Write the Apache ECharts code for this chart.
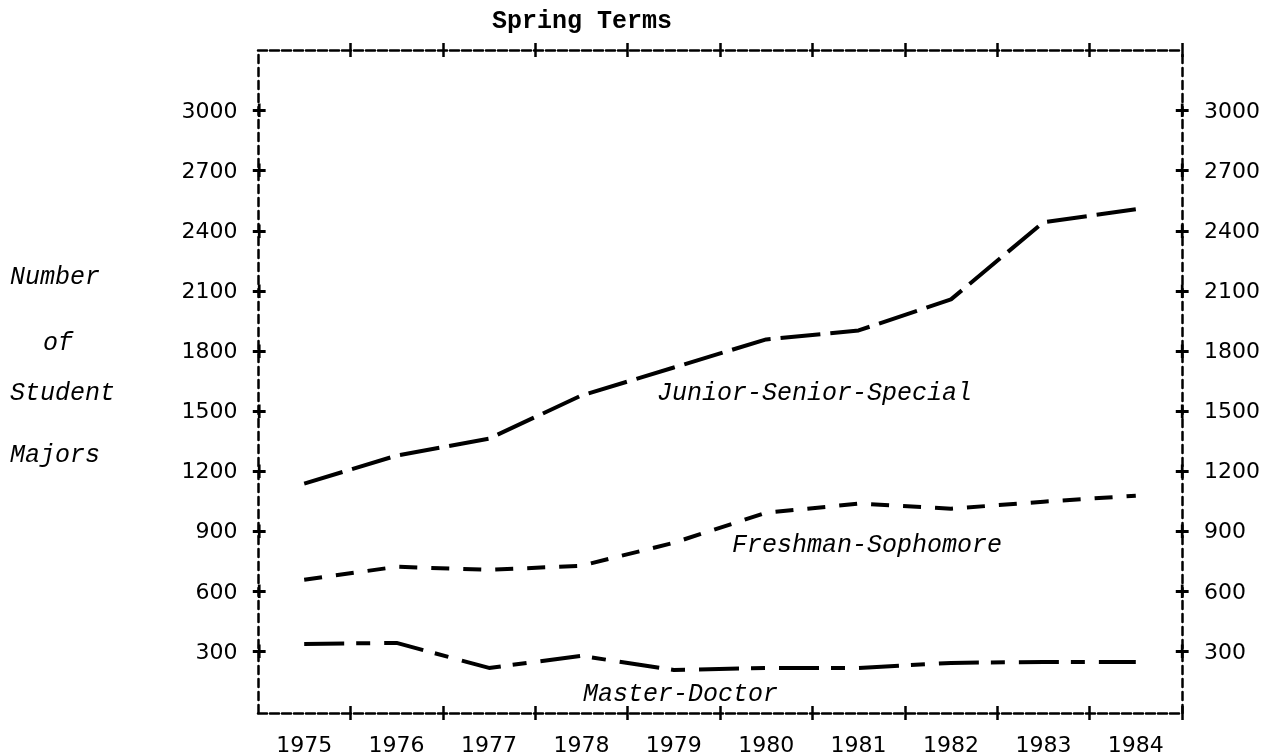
<!DOCTYPE html>
<html>
<head>
<meta charset="utf-8">
<title>Student Majors - Spring Terms</title>
<script src="https://cdn.jsdelivr.net/npm/echarts/dist/echarts.min.js"></script>
<style>
  html, body { margin: 0; padding: 0; background: #fff; }
  #majors { width: 1279px; height: 756px; }
</style>
</head>
<body>
<div id="majors"></div>
<script>
// spring terms
var years = ['1975', '1976', '1977', '1978', '1979', '1980', '1981', '1982', '1983', '1984'];
// number of student majors per level
var juniorSeniorSpecial = [1145, 1285, 1370, 1585, 1725, 1865, 1910, 2065, 2450, 2515];
var freshmanSophomore = [665, 730, 715, 735, 850, 1000, 1045, 1020, 1055, 1085];
var masterDoctor = [345, 350, 225, 285, 215, 225, 225, 250, 255, 255];
// labelled ticks on both y axes
var yTicks = [300, 600, 900, 1200, 1500, 1800, 2100, 2400, 2700, 3000];

var numFont = "'DejaVu Sans', sans-serif";
var monoFont = "'DejaVu Sans Mono', monospace";
var scriptFont = "'Liberation Mono', monospace";

var chart = echarts.init(document.getElementById('majors'));

// dashed border line, typewriter style
var borderH = {show: true, lineStyle: {color: '#000', width: 2.5, type: [9, 3]}};
var borderV = {show: true, lineStyle: {color: '#000', width: 2.5, type: [8, 5]}};
var tickStyle = {color: '#000', width: 2.5};

function xAx(pos, line, inside, labels) {
  return {
    type: 'category',
    position: pos,
    data: years,
    boundaryGap: true,
    axisLine: line ? borderH : {show: false},
    axisTick: {
      show: true, inside: inside, length: 7, lineStyle: tickStyle,
      interval: function (i) { return i > 0; }
    },
    axisLabel: labels ? {
      show: true, margin: 22, color: '#000',
      fontFamily: numFont, fontSize: 22
    } : {show: false},
    splitLine: {show: false}
  };
}

function yLabel(v, right) {
  if (yTicks.indexOf(v) < 0) return '';
  return right ? '{p|+}{s| }' + v : v + '{s| }{p|+}';
}

function yAx(pos) {
  var right = pos === 'right';
  return {
    type: 'value',
    position: pos,
    min: 0,
    max: 3310,
    interval: 300,
    axisLine: borderV,
    axisTick: {show: false},
    splitLine: {show: false},
    axisLabel: {
      show: true,
      margin: right ? -7 : -8.5,
      color: '#000',
      fontFamily: numFont,
      fontSize: 22,
      formatter: function (v) { return yLabel(v, right); },
      rich: {
        s: {fontFamily: monoFont, fontSize: 24, color: '#000'},
        p: {fontFamily: monoFont, fontSize: 24, fontWeight: 'bold', color: '#000'}
      }
    }
  };
}

function line(name, data, dash) {
  return {
    name: name,
    type: 'line',
    data: data,
    symbol: 'none',
    smooth: false,
    lineStyle: {color: '#000', width: 4, type: dash}
  };
}

function note(text, x, y, opts) {
  opts = opts || {};
  return {
    type: 'text',
    x: x,
    y: y,
    style: {
      text: text,
      fill: '#000',
      font: (opts.font || ('italic 25px ' + scriptFont)),
      align: opts.align || 'left',
      verticalAlign: 'middle'
    }
  };
}

var option = {
  animation: false,
  backgroundColor: '#fff',
  grid: {left: 258, right: 97, top: 50, bottom: 43, containLabel: false, outerBoundsMode: 'none'},
  xAxis: [
    xAx('bottom', true, true, true),
    xAx('bottom', false, false, false),
    xAx('top', true, true, false),
    xAx('top', false, false, false)
  ],
  yAxis: [yAx('left'), yAx('right')],
  series: [
    line('Junior-Senior-Special', juniorSeniorSpecial, [40, 10]),
    line('Freshman-Sophomore', freshmanSophomore, [18, 14]),
    line('Master-Doctor', masterDoctor, [40, 12, 14, 14])
  ],
  graphic: [
    note('Spring Terms', 582, 22, {font: 'bold 25px ' + scriptFont, align: 'center'}),
    note('Number', 10, 277),
    note('of', 43, 343),
    note('Student', 10, 393),
    note('Majors', 10, 455),
    note('Junior-Senior-Special', 657, 393),
    note('Freshman-Sophomore', 732, 545),
    note('Master-Doctor', 583, 694)
  ]
};

chart.setOption(option);
</script>
</body>
</html>
